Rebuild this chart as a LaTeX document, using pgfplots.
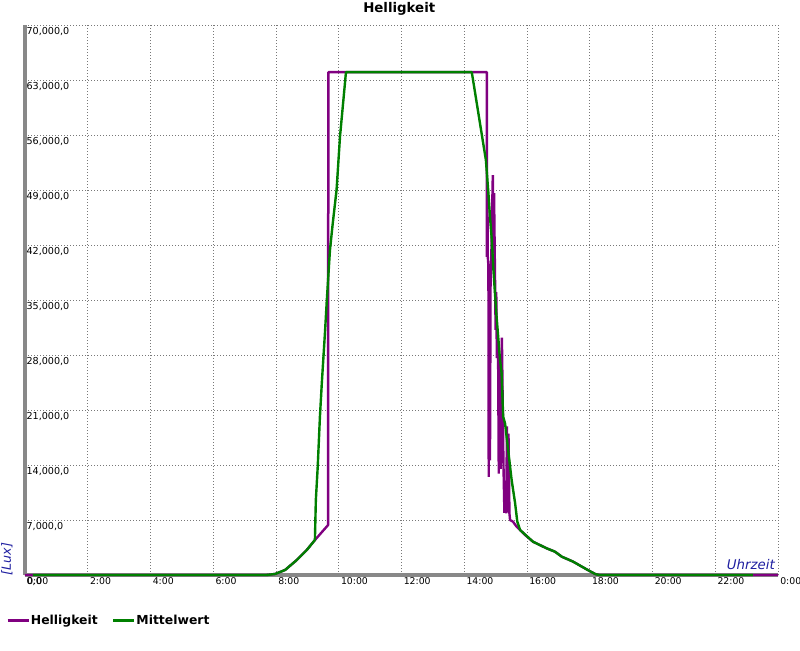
\documentclass[border=0pt]{standalone}
\usepackage{pgfplots}
\pgfplotsset{compat=1.18}
\usepackage{fontspec}
\setmainfont{DejaVu Sans}
\definecolor{hpurple}{RGB}{128,0,128}
\definecolor{mgreen}{RGB}{0,128,0}
\definecolor{lblue}{RGB}{30,30,160}
\definecolor{axgray}{RGB}{136,136,136}
\definecolor{grgray}{RGB}{120,120,120}
\begin{document}
\begin{tikzpicture}
\useasboundingbox (-18.75pt,-56.25pt) rectangle (581.25pt,431.25pt);
\begin{axis}[
  at={(0pt,0pt)}, anchor=south west,
  scale only axis, width=564.75pt, height=412.5pt,
  xmin=0, xmax=24, ymin=0, ymax=70000,
  axis x line=bottom, axis y line=left,
  axis line style={-, draw=axgray, line width=2.25pt},
  xtick={0,2,4,6,8,10,12,14,16,18,20,22,24},
  xticklabels={0:00,2:00,4:00,6:00,8:00,10:00,12:00,14:00,16:00,18:00,20:00,22:00,0:00},
  ytick={0,7000,14000,21000,28000,35000,42000,49000,56000,63000,70000},
  yticklabels={{0,0},{7,000,0},{14,000,0},{21,000,0},{28,000,0},{35,000,0},{42,000,0},{49,000,0},{56,000,0},{63,000,0},{70,000,0}},
  major tick length=0pt,
  grid=major,
  major grid style={draw=grgray, line width=0.75pt, dash pattern=on 0.75pt off 1.5pt},
  clip=false,
  scaled y ticks=false,
  xticklabel style={anchor=north west, inner sep=0pt, xshift=1.5pt, yshift=-1.9pt, font=\fontsize{7}{8.5}\selectfont},
  yticklabel style={anchor=north west, inner sep=0pt, xshift=1pt, yshift=-1.5pt, font=\fontsize{7.2}{8.5}\selectfont},
  every axis title shift=0pt,
  title={Helligkeit},
  title style={at={(axis description cs:0.497,1.0224)}, anchor=base, inner sep=0pt, font=\bfseries\fontsize{10}{12}\selectfont},
  xlabel={Uhrzeit},
  xlabel style={at={(axis description cs:0.996,0.009)}, anchor=south east, inner sep=0pt, font=\itshape\fontsize{10}{12}\selectfont, text=lblue},
  ylabel={[Lux]},
  ylabel style={at={(axis description cs:-0.0239,0.029)}, anchor=center, inner sep=0pt, font=\itshape\fontsize{9.5}{11}\selectfont, text=lblue},
  legend columns=2,
  legend style={at={(axis description cs:-0.0253,-0.0836)}, anchor=west, draw=none, fill=none, inner sep=0pt,
    font=\bfseries\fontsize{9.3}{11}\selectfont,
    nodes={inner sep=0.5pt},
    /tikz/every even column/.append style={column sep=10pt}},
  legend image code/.code={\draw[#1, line width=2.25pt] (0pt,0pt) -- (15.75pt,0pt);},
]
\addplot[hpurple, line width=1.8pt, line join=bevel] coordinates {
(0,0) (7.70,0) (7.97,130) (8.29,640) (8.66,1900) (8.98,3180) (9.24,4450) (9.66,6360)
(9.66,46000) (9.67,46000) (9.67,64000) (14.72,64000)
(14.72,40500) (14.74,47300) (14.75,40500) (14.77,39400) (14.78,12500) (14.80,39400)
(14.82,14600) (14.84,39000) (14.86,40000) (14.91,50900) (14.93,41000) (14.95,48600)
(14.97,41500) (15.00,31200) (15.02,36000) (15.04,27600) (15.06,30000) (15.08,27600)
(15.10,12900) (15.13,28000) (15.16,13500) (15.20,30200) (15.25,14000) (15.28,7900)
(15.31,12000) (15.34,7850) (15.36,18900) (15.38,8000) (15.41,18000) (15.44,7850)
(15.46,7000) (15.55,6800) (15.67,6150) (15.94,5090) (16.19,4240) (16.63,3390)
(16.89,2970) (17.11,2330) (17.47,1700) (17.90,720) (18.17,130) (18.30,0) (24,0)
};
\addlegendentry{Helligkeit}
\addplot[mgreen, line width=1.8pt, line join=bevel] coordinates {
(0.25,0) (7.70,0) (7.97,130) (8.29,640) (8.66,1900) (8.98,3180) (9.24,4450)
(9.27,9550) (9.33,13800) (9.40,20150) (9.46,24400) (9.56,30800) (9.62,35000)
(9.72,41360) (9.81,44800) (9.93,49000) (10.04,55800) (10.23,64000) (14.24,64000)
(14.69,52800) (14.77,48600) (14.82,45600) (14.88,42600) (14.93,38800) (14.98,35800)
(15.03,32900) (15.09,29900) (15.14,27400) (15.19,25700) (15.24,20150) (15.30,19300)
(15.40,15900) (15.51,12100) (15.62,9160) (15.69,6800) (15.78,5730) (15.94,5150)
(16.19,4240) (16.63,3390) (16.89,2970) (17.11,2330) (17.47,1700) (17.90,720)
(18.17,130) (18.30,0) (23.20,0)
};
\addlegendentry{Mittelwert}
\end{axis}
\end{tikzpicture}
\end{document}
